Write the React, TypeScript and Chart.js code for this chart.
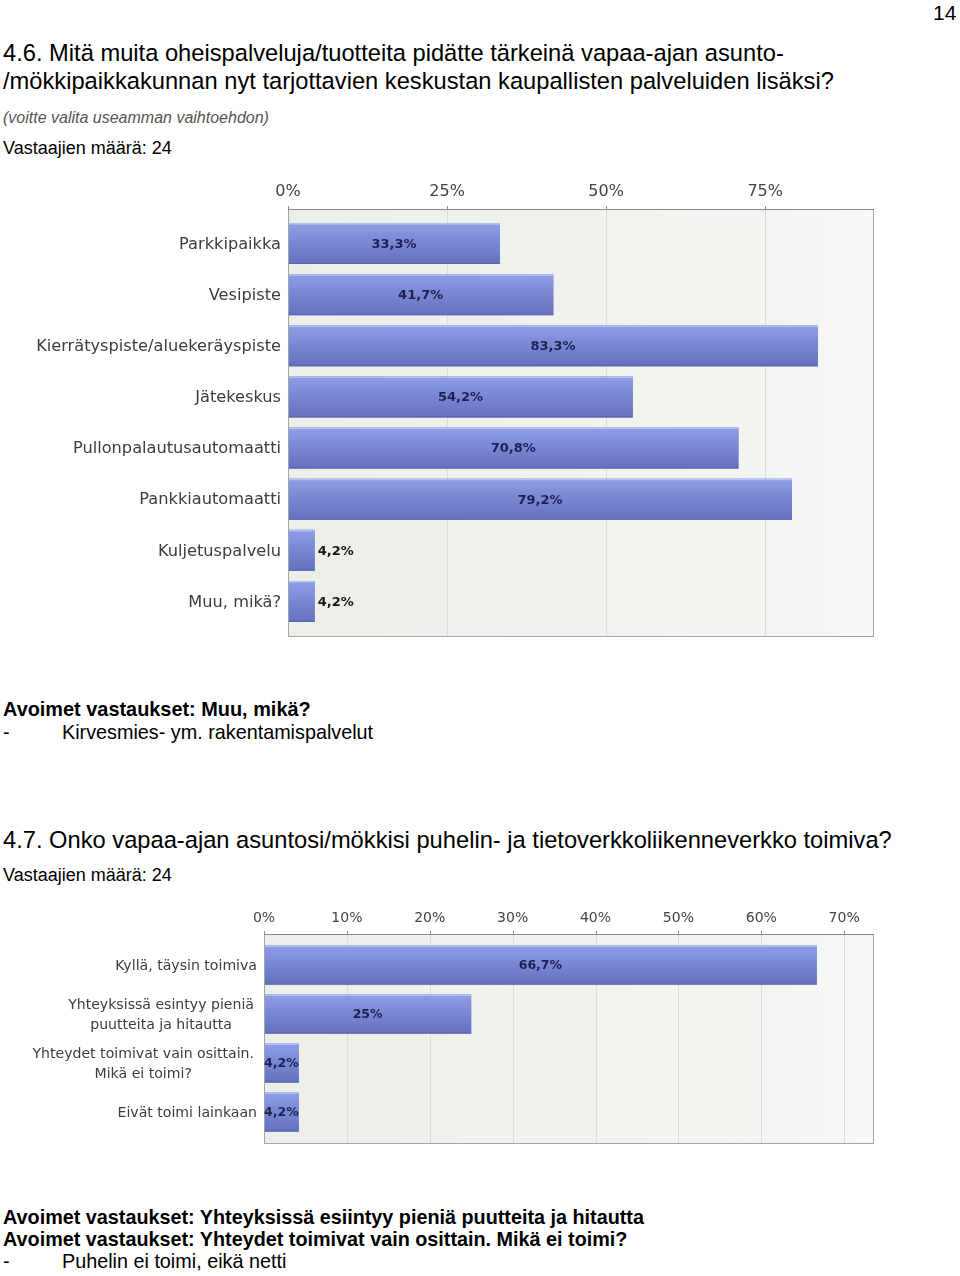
import React, { useEffect, useRef } from "react";
import { Chart, registerables } from "chart.js";
Chart.register(...registerables);

// ---- Data ----
const categories1: (string | string[])[] = [
  "Parkkipaikka",
  "Vesipiste",
  "Kierrätyspiste/aluekeräyspiste",
  "Jätekeskus",
  "Pullonpalautusautomaatti",
  "Pankkiautomaatti",
  "Kuljetuspalvelu",
  "Muu, mikä?",
];
const values1: number[] = [33.3, 41.7, 83.3, 54.2, 70.8, 79.2, 4.2, 4.2];
const axisMax1 = 92.1;
const axisStep1 = 25;

const categories2: (string | string[])[] = [
  "Kyllä, täysin toimiva",
  ["Yhteyksissä esintyy pieniä", "puutteita ja hitautta"],
  ["Yhteydet toimivat vain osittain.", "Mikä ei toimi?"],
  "Eivät toimi lainkaan",
];
const values2: number[] = [66.7, 25, 4.2, 4.2];
const axisMax2 = 73.6;
const axisStep2 = 10;

const fmt = (v: number) => String(v).replace(".", ",") + "%";

type Cfg = {
  labels: (string | string[])[];
  values: number[];
  max: number;
  step: number;
  width: number;
  height: number;
  padLeft: number;
  padRight: number;
  padBottom: number;
  axisH: number;
  tickPad: number;
  tickSize: number;
  catSize: number;
  catLineH: number;
  valSize: number;
  ext: number;
  outsideBelow: number | null;
};

function makePlugin(cfg: Cfg) {
  return {
    id: "custom-" + cfg.width + "-" + cfg.height,
    beforeDatasetsDraw(chart: any) {
      const ctx = chart.ctx as CanvasRenderingContext2D;
      const { left, right, top, bottom } = chart.chartArea;
      const ft = top - cfg.ext;
      const fb = bottom + cfg.ext;
      ctx.save();
      const g = ctx.createLinearGradient(left, 0, right, 0);
      g.addColorStop(0, "#eceee8");
      g.addColorStop(0.85, "#f4f5f2");
      g.addColorStop(1, "#f8f8f6");
      ctx.fillStyle = g;
      ctx.fillRect(left, ft, right - left, fb - ft);
      const xs = chart.scales.x;
      ctx.strokeStyle = "#dcddd8";
      ctx.lineWidth = 1;
      xs.ticks.forEach((t: any) => {
        const px = Math.round(xs.getPixelForValue(t.value)) + 0.5;
        if (t.value > 0) {
          ctx.beginPath();
          ctx.moveTo(px, ft);
          ctx.lineTo(px, fb);
          ctx.stroke();
        }
      });
      ctx.restore();
    },
    afterDatasetsDraw(chart: any) {
      const ctx = chart.ctx as CanvasRenderingContext2D;
      const { left, right, top, bottom } = chart.chartArea;
      const ft = top - cfg.ext;
      const fb = bottom + cfg.ext;
      const meta = chart.getDatasetMeta(0);
      ctx.save();
      // bars with gradient
      meta.data.forEach((bar: any) => {
        const p = bar.getProps(["x", "y", "base", "height"], true);
        const y0 = p.y - p.height / 2;
        const y1 = p.y + p.height / 2;
        const x0 = Math.min(p.base, p.x);
        const w = Math.abs(p.x - p.base);
        const g = ctx.createLinearGradient(0, y0, 0, y1);
        g.addColorStop(0, "#8f9fe6");
        g.addColorStop(0.5, "#7886d3");
        g.addColorStop(1, "#6470bf");
        ctx.fillStyle = g;
        ctx.fillRect(x0, y0, w, y1 - y0);
        ctx.fillStyle = "rgba(190,200,245,0.8)";
        ctx.fillRect(x0, y0, w, 1.5);
        ctx.fillStyle = "rgba(80,90,160,0.5)";
        ctx.fillRect(x0, y1 - 1, w, 1);
      });
      // frame
      ctx.strokeStyle = "#a4a4a4";
      ctx.lineWidth = 1;
      ctx.strokeRect(Math.round(left) + 0.5, Math.round(ft) + 0.5, Math.round(right - left) - 1, Math.round(fb - ft));
      ctx.strokeStyle = "#8a8a8a";
      ctx.beginPath();
      ctx.moveTo(left, Math.round(ft) + 0.5);
      ctx.lineTo(right, Math.round(ft) + 0.5);
      ctx.stroke();
      // tick marks
      const xs = chart.scales.x;
      xs.ticks.forEach((t: any) => {
        const px = Math.round(xs.getPixelForValue(t.value)) + 0.5;
        ctx.beginPath();
        ctx.moveTo(px, ft - 3);
        ctx.lineTo(px, ft + 1);
        ctx.stroke();
      });
      // value labels
      ctx.font = `bold ${cfg.valSize}px "DejaVu Sans"`;
      ctx.textBaseline = "middle";
      meta.data.forEach((bar: any, i: number) => {
        const p = bar.getProps(["x", "y", "base"], true);
        const v = cfg.values[i];
        const text = fmt(v);
        if (cfg.outsideBelow !== null && v < cfg.outsideBelow) {
          ctx.textAlign = "left";
          ctx.fillStyle = "#161616";
          ctx.fillText(text, p.x + 3, p.y + 1);
        } else {
          ctx.textAlign = "center";
          ctx.fillStyle = "#1d2152";
          ctx.fillText(text, (p.x + p.base) / 2, p.y + 1);
        }
      });
      // category labels
      const ys = chart.scales.y;
      ctx.font = `${cfg.catSize}px "DejaVu Sans"`;
      ctx.fillStyle = "#3c3c3c";
      cfg.labels.forEach((lab, i) => {
        const yc = ys.getPixelForValue(i);
        if (Array.isArray(lab)) {
          const maxW = Math.max(...lab.map((l) => ctx.measureText(l).width));
          const cx = left - 10 - maxW / 2;
          ctx.textAlign = "center";
          lab.forEach((l, j) => {
            ctx.fillText(l, cx, yc + (j - (lab.length - 1) / 2) * cfg.catLineH + 1);
          });
        } else {
          ctx.textAlign = "right";
          ctx.fillText(lab, left - 7, yc + 1);
        }
      });
      ctx.restore();
    },
  };
}

function BarChart({ cfg, style }: { cfg: Cfg; style: React.CSSProperties }) {
  const ref = useRef<HTMLCanvasElement | null>(null);
  useEffect(() => {
    if (!ref.current) return;
    const chart = new Chart(ref.current, {
      type: "bar",
      data: {
        labels: cfg.labels.map((l) => (Array.isArray(l) ? l.join(" ") : l)),
        datasets: [
          {
            data: cfg.values,
            backgroundColor: "#7886d2",
            borderWidth: 0,
            categoryPercentage: 1,
            barPercentage: 0.8,
          },
        ],
      },
      options: {
        indexAxis: "y",
        responsive: false,
        animation: false,
        devicePixelRatio: 1,
        layout: { padding: { left: cfg.padLeft, right: cfg.padRight, top: 0, bottom: cfg.padBottom } },
        plugins: { legend: { display: false }, tooltip: { enabled: false } },
        scales: {
          x: {
            type: "linear",
            position: "top",
            min: 0,
            max: cfg.max,
            grid: { display: false, drawTicks: false },
            border: { display: false },
            ticks: {
              stepSize: cfg.step,
              includeBounds: false,
              callback: (v: any) => v + "%",
              font: { family: "DejaVu Sans", size: cfg.tickSize },
              color: "#444",
              padding: cfg.tickPad,
              maxRotation: 0,
            },
            afterFit: (s: any) => {
              s.height = cfg.axisH;
            },
          },
          y: { type: "category", display: false, offset: true, grid: { display: false } },
        },
      } as any,
      plugins: [makePlugin(cfg)],
    });
    return () => chart.destroy();
  }, []);
  return <canvas ref={ref} width={cfg.width} height={cfg.height} style={{ position: "absolute", width: cfg.width, height: cfg.height, ...style }} />;
}

const cfg1: Cfg = {
  labels: categories1,
  values: values1,
  max: axisMax1,
  step: axisStep1,
  width: 900,
  height: 480,
  padLeft: 288,
  padRight: 26,
  padBottom: 23,
  axisH: 48,
  tickPad: 17,
  tickSize: 16,
  catSize: 16.2,
  catLineH: 20,
  valSize: 13,
  ext: 9,
  outsideBelow: 10,
};

const cfg2: Cfg = {
  labels: categories2,
  values: values2,
  max: axisMax2,
  step: axisStep2,
  width: 900,
  height: 270,
  padLeft: 264,
  padRight: 26,
  padBottom: 28.5,
  axisH: 45.5,
  tickPad: 13.5,
  tickSize: 14,
  catSize: 14.1,
  catLineH: 20,
  valSize: 12.5,
  ext: 6.5,
  outsideBelow: null,
};

const T = (props: { top: number; left: number; size: number; children: React.ReactNode; style?: React.CSSProperties }) => (
  <div
    style={{
      position: "absolute",
      top: props.top,
      left: props.left,
      fontSize: props.size,
      lineHeight: props.size + "px",
      whiteSpace: "nowrap",
      fontFamily: '"Liberation Sans", Arial, sans-serif',
      color: "#000",
      ...props.style,
    }}
  >
    {props.children}
  </div>
);

export default function App() {
  return (
    <div style={{ position: "absolute", left: 0, top: 0, width: 960, height: 1276, background: "#fff", overflow: "hidden" }}>
      <T top={2} left={933} size={21}>14</T>
      <T top={41.7} left={3} size={23.7}>4.6. Mitä muita oheispalveluja/tuotteita pidätte tärkeinä vapaa-ajan asunto-</T>
      <T top={69.7} left={3} size={23.7}>/mökkipaikkakunnan nyt tarjottavien keskustan kaupallisten palveluiden lisäksi?</T>
      <T top={109.5} left={3} size={16} style={{ fontStyle: "italic", color: "#555" }}>(voitte valita useamman vaihtoehdon)</T>
      <T top={139} left={3} size={18}>Vastaajien määrä: 24</T>

      <BarChart cfg={cfg1} style={{ left: 0, top: 170 }} />

      <T top={700} left={3} size={19.9} style={{ fontWeight: "bold" }}>Avoimet vastaukset: Muu, mikä?</T>
      <T top={723} left={3} size={19.8}>-</T>
      <T top={723} left={62} size={19.8}>Kirvesmies- ym. rakentamispalvelut</T>

      <T top={828.7} left={3} size={23.7}>4.7. Onko vapaa-ajan asuntosi/mökkisi puhelin- ja tietoverkkoliikenneverkko toimiva?</T>
      <T top={866} left={3} size={18}>Vastaajien määrä: 24</T>

      <BarChart cfg={cfg2} style={{ left: 0, top: 895 }} />

      <T top={1208} left={3} size={19.8} style={{ fontWeight: "bold" }}>Avoimet vastaukset: Yhteyksissä esiintyy pieniä puutteita ja hitautta</T>
      <T top={1230} left={3} size={19.8} style={{ fontWeight: "bold" }}>Avoimet vastaukset: Yhteydet toimivat vain osittain. Mikä ei toimi?</T>
      <T top={1252} left={3} size={19.8}>-</T>
      <T top={1252} left={62} size={19.8}>Puhelin ei toimi, eikä netti</T>
    </div>
  );
}
